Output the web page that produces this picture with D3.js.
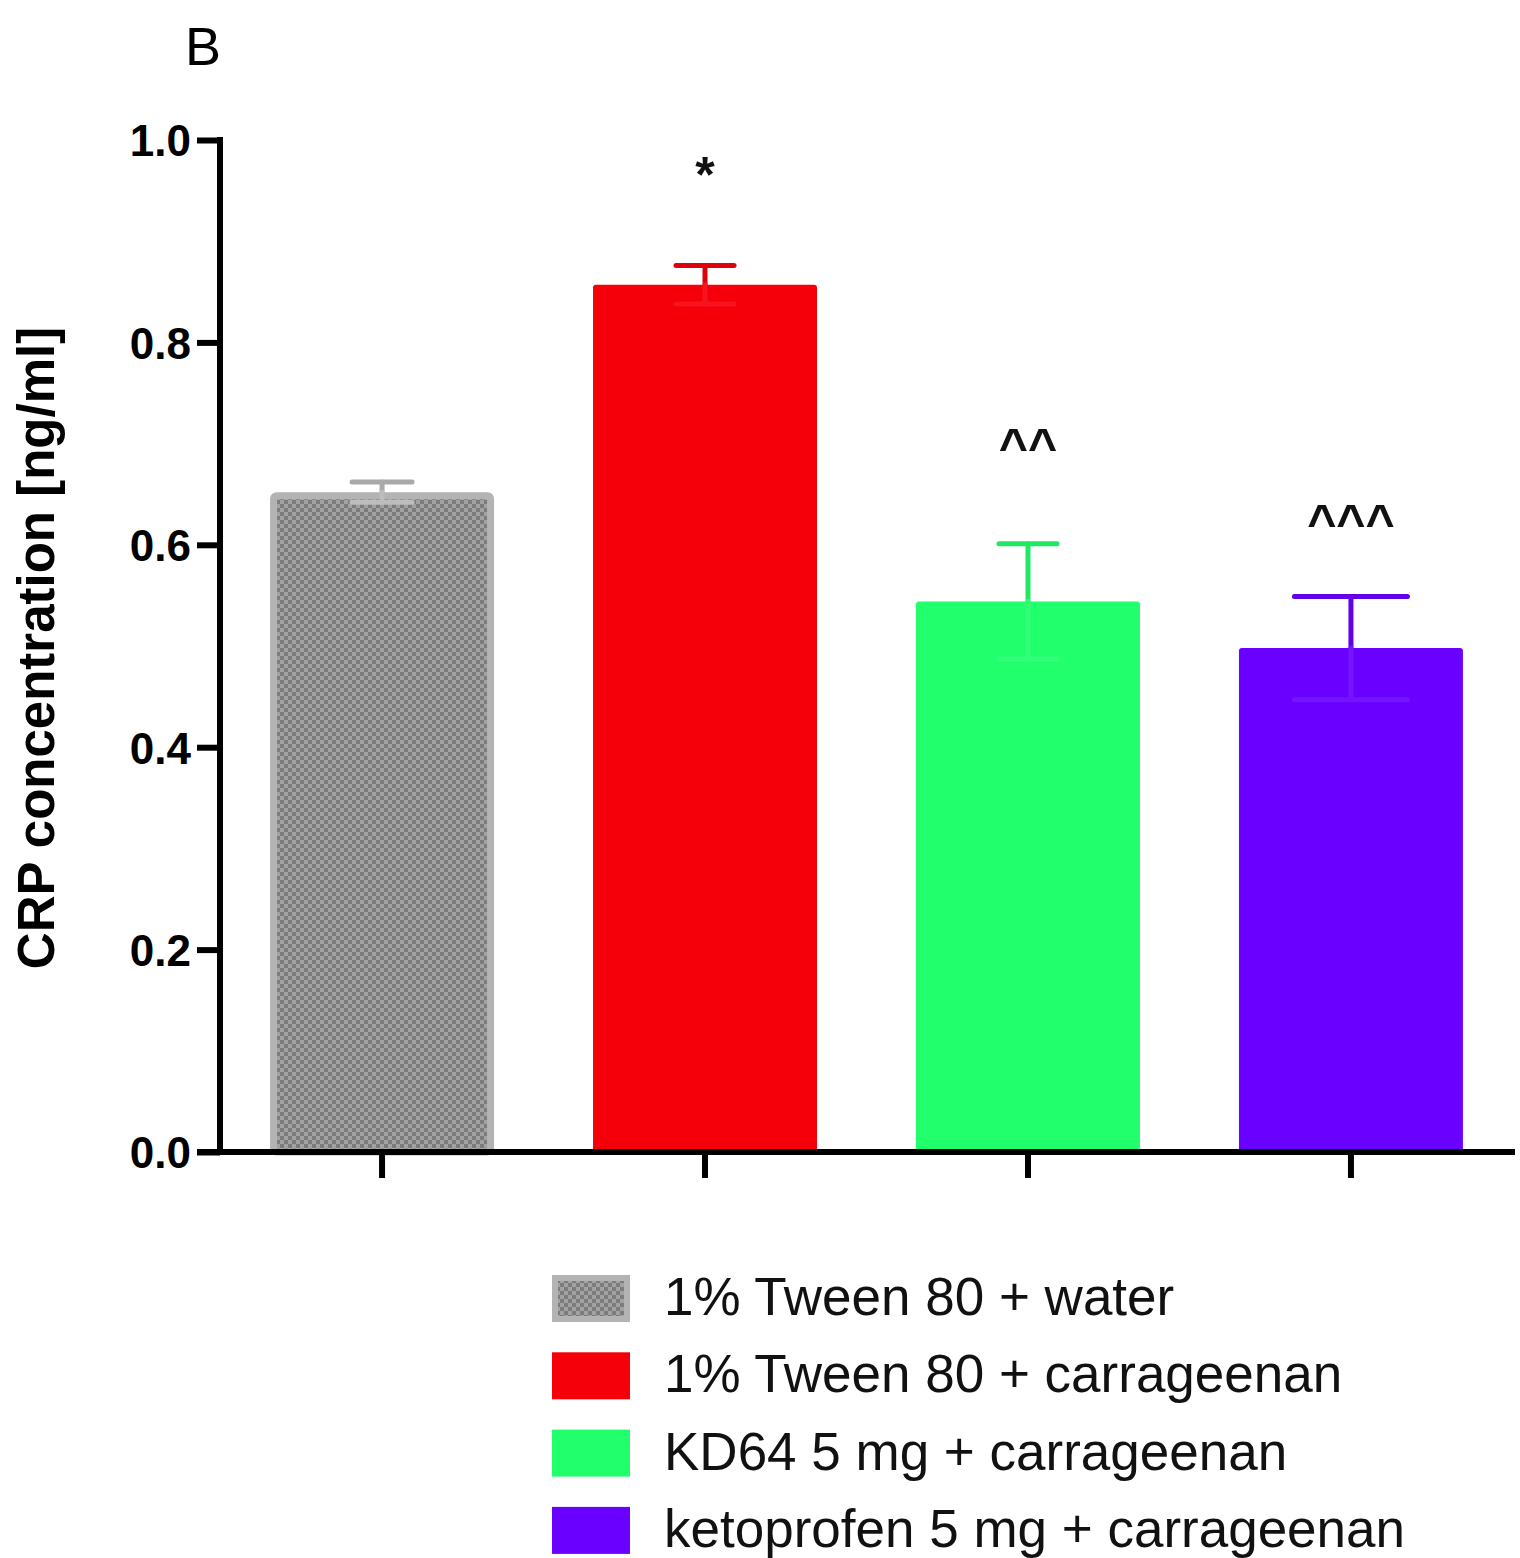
<!DOCTYPE html>
<html>
<head>
<meta charset="utf-8">
<script src="https://cdn.jsdelivr.net/npm/d3@7"></script>
<style>
  body { margin: 0; background: #fff; }
  text { font-family: "Liberation Sans", Arial, sans-serif; }
</style>
</head>
<body>
<script>
/*** data ***/
const groups = ["1% Tween 80 + water", "1% Tween 80 + carrageenan", "KD64 5 mg + carrageenan", "ketoprofen 5 mg + carrageenan"]
const means = [0.652, 0.857, 0.544, 0.498]
const sems = [0.010, 0.019, 0.057, 0.051]
const signif = ["", "*", "^^", "^^^"]
const yTicks = [0.0, 0.2, 0.4, 0.6, 0.8, 1.0]

const colors = ["#9a9a9a", "#f5000a", "#22ff6c", "#6a00ff"]
const capWidths = [60, 58, 58, 113]
const markOffsets = [0, 73, 80, 56]   // gap between cap and significance mark

const svgWidth = 1520
const svgHeight = 1558

let svg = d3.select("body")
    .append("svg")
    .attr("width", svgWidth)
    .attr("height", svgHeight)

// checker pattern for the control bar
let defs = svg.append("defs")
let pat = defs.append("pattern")
    .attr("id", "checker")
    .attr("patternUnits", "userSpaceOnUse")
    .attr("width", 8)
    .attr("height", 8)
pat.append("rect").attr("width", 8).attr("height", 8).attr("fill", "#a2a2a2")
pat.append("rect").attr("width", 4).attr("height", 4).attr("fill", "#7c7c7c")
pat.append("rect").attr("x", 4).attr("y", 4).attr("width", 4).attr("height", 4).attr("fill", "#7c7c7c")

let fills = colors.map((c, i) => i == 0 ? "url(#checker)" : c)

/* scales */
let y = d3.scaleLinear()
    .domain([0, 1])
    .range([1152, 140])

let x = d3.scaleBand()
    .domain(groups)
    .range([220, 1513])
    .paddingInner(0.3065)
    .paddingOuter(0.155)

// bars
svg.append("g")
    .selectAll("rect")
    .data(groups)
    .join("rect")
    .attr("x", (d, i) => x(d) + (i == 0 ? 3.5 : 0))
    .attr("y", (d, i) => y(means[i]) + (i == 0 ? 3.5 : 0))
    .attr("width", (d, i) => x.bandwidth() - (i == 0 ? 7 : 0))
    .attr("height", (d, i) => y(0) - y(means[i]) - (i == 0 ? 3.5 : 0))
    .attr("rx", 3)
    .attr("fill", (d, i) => fills[i])
    .attr("stroke", (d, i) => i == 0 ? "#b3b3b3" : "none")
    .attr("stroke-width", 7)

// error bars (upper part solid, lower part faint inside the bar)
let err = svg.append("g")
    .attr("stroke-linecap", "round")
    .attr("stroke-width", 5)

groups.forEach((g, i) => {
    let cx = x(g) + x.bandwidth() / 2
    let hi = y(means[i] + sems[i])
    let lo = y(means[i] - sems[i])
    let up = i == 0 ? "#a9a9a9" : d3.color(colors[i]).darker(0.25).formatHex()
    let down = i == 0 ? "#bdbdbd" : d3.interpolateRgb(colors[i], "#ffffff")(0.08)
    err.append("line")
        .attr("x1", cx).attr("x2", cx)
        .attr("y1", hi).attr("y2", y(means[i]))
        .attr("stroke", up)
    err.append("line")
        .attr("x1", cx - capWidths[i] / 2).attr("x2", cx + capWidths[i] / 2)
        .attr("y1", hi).attr("y2", hi)
        .attr("stroke", up)
    err.append("line")
        .attr("x1", cx).attr("x2", cx)
        .attr("y1", y(means[i])).attr("y2", lo)
        .attr("stroke", down)
    err.append("line")
        .attr("x1", cx - capWidths[i] / 2).attr("x2", cx + capWidths[i] / 2)
        .attr("y1", lo).attr("y2", lo)
        .attr("stroke", down)
})

// significance marks
svg.append("g")
    .selectAll("text")
    .data(groups)
    .join("text")
    .attr("x", d => x(d) + x.bandwidth() / 2)
    .attr("y", (d, i) => y(means[i] + sems[i]) - markOffsets[i])
    .attr("text-anchor", "middle")
    .attr("font-size", 50)
    .attr("font-weight", "bold")
    .attr("fill", "#111")
    .text((d, i) => signif[i])

/* axes */
let leftAxis = d3.axisLeft(y)
    .tickValues(yTicks)
    .tickFormat(d3.format(".1f"))
    .tickSize(23)
    .tickSizeOuter(0)
    .tickPadding(6)

let yAxis = svg.append("g")
    .attr("transform", "translate(220,0)")
    .call(leftAxis)

yAxis.select(".domain")
    .attr("stroke", "#000")
    .attr("stroke-width", 6)
    .attr("d", `M0,${y(1) - 3}V${y(0)}`)
yAxis.selectAll(".tick line")
    .attr("stroke", "#000")
    .attr("stroke-width", 6)
yAxis.selectAll(".tick text")
    .attr("font-size", 44)
    .attr("font-weight", "bold")
    .attr("font-family", "'Liberation Sans', Arial, sans-serif")
    .attr("fill", "#000")
    .attr("dy", "0.36em")

let bottomAxis = d3.axisBottom(x)
    .tickSize(26)
    .tickSizeOuter(0)
    .tickFormat("")

let xAxis = svg.append("g")
    .attr("transform", `translate(0,${y(0)})`)
    .call(bottomAxis)

xAxis.select(".domain")
    .attr("stroke", "#000")
    .attr("stroke-width", 6)
    .attr("d", `M${220 - 23},0H${x.range()[1] + 2}`)
xAxis.selectAll(".tick line")
    .attr("stroke", "#000")
    .attr("stroke-width", 6)

// axis label
svg.append("text")
    .attr("transform", `translate(54, 648) rotate(-90)`)
    .attr("text-anchor", "middle")
    .attr("font-size", 51)
    .attr("font-weight", "bold")
    .attr("fill", "#000")
    .text("CRP concentration [ng/ml]")

// panel letter
svg.append("text")
    .attr("x", 185)
    .attr("y", 65)
    .attr("font-size", 54)
    .attr("fill", "#000")
    .text("B")

/* legend */
let legend = svg.append("g")
    .attr("transform", "translate(552,1275)")

let rows = legend.selectAll("g")
    .data(groups)
    .join("g")
    .attr("transform", (d, i) => `translate(0, ${i * 77.3})`)

rows.append("rect")
    .attr("x", (d, i) => i == 0 ? 3 : 0)
    .attr("y", (d, i) => i == 0 ? 3 : 0)
    .attr("width", (d, i) => i == 0 ? 72 : 78)
    .attr("height", (d, i) => i == 0 ? 41 : 47)
    .attr("fill", (d, i) => fills[i])
    .attr("stroke", (d, i) => i == 0 ? "#b3b3b3" : "none")
    .attr("stroke-width", 6)

rows.append("text")
    .attr("x", 112)
    .attr("y", 40)
    .attr("font-size", 53)
    .attr("fill", "#111")
    .text(d => d)
</script>
</body>
</html>
